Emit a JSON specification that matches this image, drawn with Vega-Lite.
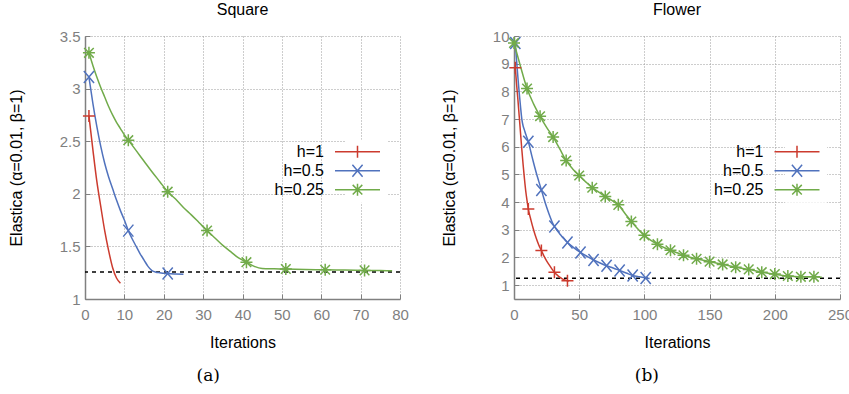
{
  "$schema": "https://vega.github.io/schema/vega-lite/v6.json",
  "background": "white",
  "padding": {"left": 8, "top": 2, "right": 0, "bottom": 0},
  "datasets": {
    "curves": [
      {"p":"S","s":"h=1","x":1,"y":2.74,"m":1},{"p":"S","s":"h=1","x":2,"y":2.42},{"p":"S","s":"h=1","x":3,"y":2.12},{"p":"S","s":"h=1","x":4,"y":1.88},{"p":"S","s":"h=1","x":5,"y":1.65},{"p":"S","s":"h=1","x":6,"y":1.46},{"p":"S","s":"h=1","x":7,"y":1.3},{"p":"S","s":"h=1","x":8,"y":1.2},{"p":"S","s":"h=1","x":9,"y":1.15},
      {"p":"S","s":"h=0.5","x":1,"y":3.11,"m":1},{"p":"S","s":"h=0.5","x":2,"y":2.86},{"p":"S","s":"h=0.5","x":3,"y":2.64},{"p":"S","s":"h=0.5","x":4,"y":2.45},{"p":"S","s":"h=0.5","x":5,"y":2.29},{"p":"S","s":"h=0.5","x":6,"y":2.16},{"p":"S","s":"h=0.5","x":7,"y":2.05},{"p":"S","s":"h=0.5","x":8,"y":1.94},{"p":"S","s":"h=0.5","x":9,"y":1.84},{"p":"S","s":"h=0.5","x":10,"y":1.75},{"p":"S","s":"h=0.5","x":11,"y":1.65,"m":1},{"p":"S","s":"h=0.5","x":12,"y":1.57},{"p":"S","s":"h=0.5","x":13,"y":1.5},{"p":"S","s":"h=0.5","x":14,"y":1.43},{"p":"S","s":"h=0.5","x":15,"y":1.37},{"p":"S","s":"h=0.5","x":16,"y":1.31},{"p":"S","s":"h=0.5","x":17,"y":1.27},{"p":"S","s":"h=0.5","x":18,"y":1.255},{"p":"S","s":"h=0.5","x":19,"y":1.25},{"p":"S","s":"h=0.5","x":20,"y":1.245},{"p":"S","s":"h=0.5","x":21,"y":1.242,"m":1},{"p":"S","s":"h=0.5","x":23,"y":1.238},{"p":"S","s":"h=0.5","x":25,"y":1.235},
      {"p":"S","s":"h=0.25","x":1,"y":3.34,"m":1},{"p":"S","s":"h=0.25","x":2,"y":3.22},{"p":"S","s":"h=0.25","x":3,"y":3.11},{"p":"S","s":"h=0.25","x":4,"y":3.01},{"p":"S","s":"h=0.25","x":5,"y":2.92},{"p":"S","s":"h=0.25","x":6,"y":2.83},{"p":"S","s":"h=0.25","x":7,"y":2.75},{"p":"S","s":"h=0.25","x":8,"y":2.68},{"p":"S","s":"h=0.25","x":9,"y":2.62},{"p":"S","s":"h=0.25","x":10,"y":2.56},{"p":"S","s":"h=0.25","x":11,"y":2.51,"m":1},{"p":"S","s":"h=0.25","x":13,"y":2.41},{"p":"S","s":"h=0.25","x":15,"y":2.31},{"p":"S","s":"h=0.25","x":17,"y":2.21},{"p":"S","s":"h=0.25","x":19,"y":2.115},{"p":"S","s":"h=0.25","x":21,"y":2.02,"m":1},{"p":"S","s":"h=0.25","x":23,"y":1.95},{"p":"S","s":"h=0.25","x":25,"y":1.87},{"p":"S","s":"h=0.25","x":27,"y":1.8},{"p":"S","s":"h=0.25","x":29,"y":1.725},{"p":"S","s":"h=0.25","x":31,"y":1.65,"m":1},{"p":"S","s":"h=0.25","x":33,"y":1.58},{"p":"S","s":"h=0.25","x":35,"y":1.51},{"p":"S","s":"h=0.25","x":37,"y":1.45},{"p":"S","s":"h=0.25","x":39,"y":1.39},{"p":"S","s":"h=0.25","x":41,"y":1.35,"m":1},{"p":"S","s":"h=0.25","x":43,"y":1.31},{"p":"S","s":"h=0.25","x":45,"y":1.29},{"p":"S","s":"h=0.25","x":48,"y":1.287},{"p":"S","s":"h=0.25","x":51,"y":1.285,"m":1},{"p":"S","s":"h=0.25","x":56,"y":1.28},{"p":"S","s":"h=0.25","x":61,"y":1.278,"m":1},{"p":"S","s":"h=0.25","x":66,"y":1.275},{"p":"S","s":"h=0.25","x":71,"y":1.272,"m":1},{"p":"S","s":"h=0.25","x":75,"y":1.27},{"p":"S","s":"h=0.25","x":78,"y":1.268},
      {"p":"F","s":"h=1","x":1,"y":8.85,"m":1},{"p":"F","s":"h=1","x":2,"y":8.25},{"p":"F","s":"h=1","x":3,"y":7.7},{"p":"F","s":"h=1","x":4,"y":7.1},{"p":"F","s":"h=1","x":5,"y":6.5},{"p":"F","s":"h=1","x":6,"y":5.9},{"p":"F","s":"h=1","x":7,"y":5.35},{"p":"F","s":"h=1","x":8,"y":4.85},{"p":"F","s":"h=1","x":9,"y":4.4},{"p":"F","s":"h=1","x":10,"y":4.05},{"p":"F","s":"h=1","x":11,"y":3.75,"m":1},{"p":"F","s":"h=1","x":13,"y":3.35},{"p":"F","s":"h=1","x":15,"y":3.0},{"p":"F","s":"h=1","x":17,"y":2.7},{"p":"F","s":"h=1","x":19,"y":2.45},{"p":"F","s":"h=1","x":21,"y":2.25,"m":1},{"p":"F","s":"h=1","x":23,"y":2.05},{"p":"F","s":"h=1","x":25,"y":1.88},{"p":"F","s":"h=1","x":27,"y":1.73},{"p":"F","s":"h=1","x":29,"y":1.59},{"p":"F","s":"h=1","x":31,"y":1.47,"m":1},{"p":"F","s":"h=1","x":33,"y":1.37},{"p":"F","s":"h=1","x":35,"y":1.29},{"p":"F","s":"h=1","x":37,"y":1.23},{"p":"F","s":"h=1","x":39,"y":1.19},{"p":"F","s":"h=1","x":41,"y":1.16,"m":1},{"p":"F","s":"h=1","x":42,"y":1.15},
      {"p":"F","s":"h=0.5","x":1,"y":9.75,"m":1},{"p":"F","s":"h=0.5","x":2,"y":9.1},{"p":"F","s":"h=0.5","x":3,"y":8.5},{"p":"F","s":"h=0.5","x":4,"y":7.95},{"p":"F","s":"h=0.5","x":5,"y":7.45},{"p":"F","s":"h=0.5","x":6,"y":7.0},{"p":"F","s":"h=0.5","x":7,"y":6.75},{"p":"F","s":"h=0.5","x":8,"y":6.6},{"p":"F","s":"h=0.5","x":9,"y":6.45},{"p":"F","s":"h=0.5","x":10,"y":6.32},{"p":"F","s":"h=0.5","x":11,"y":6.18,"m":1},{"p":"F","s":"h=0.5","x":13,"y":5.8},{"p":"F","s":"h=0.5","x":15,"y":5.42},{"p":"F","s":"h=0.5","x":17,"y":5.07},{"p":"F","s":"h=0.5","x":19,"y":4.75},{"p":"F","s":"h=0.5","x":21,"y":4.44,"m":1},{"p":"F","s":"h=0.5","x":23,"y":4.12},{"p":"F","s":"h=0.5","x":25,"y":3.82},{"p":"F","s":"h=0.5","x":27,"y":3.55},{"p":"F","s":"h=0.5","x":29,"y":3.31},{"p":"F","s":"h=0.5","x":31,"y":3.12,"m":1},{"p":"F","s":"h=0.5","x":33,"y":2.98},{"p":"F","s":"h=0.5","x":35,"y":2.86},{"p":"F","s":"h=0.5","x":37,"y":2.74},{"p":"F","s":"h=0.5","x":39,"y":2.64},{"p":"F","s":"h=0.5","x":41,"y":2.54,"m":1},{"p":"F","s":"h=0.5","x":46,"y":2.35},{"p":"F","s":"h=0.5","x":51,"y":2.18,"m":1},{"p":"F","s":"h=0.5","x":56,"y":2.04},{"p":"F","s":"h=0.5","x":61,"y":1.91,"m":1},{"p":"F","s":"h=0.5","x":66,"y":1.8},{"p":"F","s":"h=0.5","x":71,"y":1.7,"m":1},{"p":"F","s":"h=0.5","x":76,"y":1.62},{"p":"F","s":"h=0.5","x":81,"y":1.53,"m":1},{"p":"F","s":"h=0.5","x":86,"y":1.44},{"p":"F","s":"h=0.5","x":91,"y":1.35,"m":1},{"p":"F","s":"h=0.5","x":96,"y":1.3},{"p":"F","s":"h=0.5","x":101,"y":1.26,"m":1},{"p":"F","s":"h=0.5","x":104,"y":1.24},
      {"p":"F","s":"h=0.25","x":0,"y":9.75,"m":1},{"p":"F","s":"h=0.25","x":5,"y":8.9},{"p":"F","s":"h=0.25","x":10,"y":8.1,"m":1},{"p":"F","s":"h=0.25","x":15,"y":7.55},{"p":"F","s":"h=0.25","x":20,"y":7.1,"m":1},{"p":"F","s":"h=0.25","x":25,"y":6.7},{"p":"F","s":"h=0.25","x":30,"y":6.35,"m":1},{"p":"F","s":"h=0.25","x":35,"y":5.93},{"p":"F","s":"h=0.25","x":40,"y":5.5,"m":1},{"p":"F","s":"h=0.25","x":45,"y":5.2},{"p":"F","s":"h=0.25","x":50,"y":4.96,"m":1},{"p":"F","s":"h=0.25","x":55,"y":4.73},{"p":"F","s":"h=0.25","x":60,"y":4.52,"m":1},{"p":"F","s":"h=0.25","x":65,"y":4.36},{"p":"F","s":"h=0.25","x":70,"y":4.2,"m":1},{"p":"F","s":"h=0.25","x":75,"y":4.06},{"p":"F","s":"h=0.25","x":80,"y":3.9,"m":1},{"p":"F","s":"h=0.25","x":85,"y":3.6},{"p":"F","s":"h=0.25","x":90,"y":3.3,"m":1},{"p":"F","s":"h=0.25","x":95,"y":3.03},{"p":"F","s":"h=0.25","x":100,"y":2.8,"m":1},{"p":"F","s":"h=0.25","x":105,"y":2.62},{"p":"F","s":"h=0.25","x":110,"y":2.48,"m":1},{"p":"F","s":"h=0.25","x":115,"y":2.36},{"p":"F","s":"h=0.25","x":120,"y":2.26,"m":1},{"p":"F","s":"h=0.25","x":125,"y":2.17},{"p":"F","s":"h=0.25","x":130,"y":2.08,"m":1},{"p":"F","s":"h=0.25","x":135,"y":2.01},{"p":"F","s":"h=0.25","x":140,"y":1.95,"m":1},{"p":"F","s":"h=0.25","x":145,"y":1.9},{"p":"F","s":"h=0.25","x":150,"y":1.85,"m":1},{"p":"F","s":"h=0.25","x":155,"y":1.8},{"p":"F","s":"h=0.25","x":160,"y":1.75,"m":1},{"p":"F","s":"h=0.25","x":165,"y":1.7},{"p":"F","s":"h=0.25","x":170,"y":1.65,"m":1},{"p":"F","s":"h=0.25","x":175,"y":1.61},{"p":"F","s":"h=0.25","x":180,"y":1.57,"m":1},{"p":"F","s":"h=0.25","x":185,"y":1.52},{"p":"F","s":"h=0.25","x":190,"y":1.47,"m":1},{"p":"F","s":"h=0.25","x":195,"y":1.43},{"p":"F","s":"h=0.25","x":200,"y":1.4,"m":1},{"p":"F","s":"h=0.25","x":205,"y":1.36},{"p":"F","s":"h=0.25","x":210,"y":1.33,"m":1},{"p":"F","s":"h=0.25","x":215,"y":1.31},{"p":"F","s":"h=0.25","x":220,"y":1.3,"m":1},{"p":"F","s":"h=0.25","x":225,"y":1.3},{"p":"F","s":"h=0.25","x":230,"y":1.3,"m":1},{"p":"F","s":"h=0.25","x":236,"y":1.29}
    ],
    "ref": [{"p":"S","y":1.257},{"p":"F","y":1.25}]
  },
  "config": {
    "font": "Liberation Sans",
    "view": {"stroke": null},
    "axis": {
      "grid": true, "gridColor": "#9a9a9a", "gridDash": [1, 2], "gridWidth": 1,
      "domainColor": "#808080", "domainWidth": 1.5,
      "ticks": true, "tickColor": "#808080", "tickSize": -5, "tickWidth": 1,
      "labelFont": "Liberation Sans", "labelFontSize": 15, "labelColor": "#7f7f7f",
      "titleFont": "Liberation Sans", "titleFontSize": 16, "titleFontWeight": "normal", "titleColor": "black",
      "labelFlush": false, "labelOverlap": false
    },
    "axisX": {"labelPadding": 13, "titlePadding": 12},
    "axisY": {"labelPadding": 10},
    "title": {"font": "Liberation Sans", "fontSize": 16, "fontWeight": "normal", "color": "black", "offset": 11},
    "legend": {
      "orient": "none", "title": null, "labelFont": "Liberation Sans", "labelFontSize": 16, "labelColor": "black",
      "labelAlign": "right", "labelOffset": -41.5, "symbolSize": 144, "symbolStrokeWidth": 1.5, "rowPadding": 1,
      "symbolOpacity": 1, "fillColor": "white", "padding": 4
    }
  },
  "spacing": 32,
  "hconcat": [
    {
      "title": {"text": "(a)", "orient": "bottom", "anchor": "middle", "font": "DejaVu Serif", "fontSize": 17, "offset": 18},
      "vconcat": [
        {
          "width": 315, "height": 263,
          "title": {"text": "Square"},
          "resolve": {"scale": {"color": "independent", "shape": "independent"}, "legend": {"color": "independent", "shape": "independent"}},
          "layer": [
            {
              "data": {"name": "ref"},
              "transform": [{"filter": "datum.p === 'S'"}],
              "mark": {"type": "rule", "color": "black", "strokeDash": [4, 4], "strokeWidth": 1.5},
              "encoding": {"y": {"field": "y", "type": "quantitative", "scale": {"domain": [1, 3.5], "nice": false, "zero": false},
                  "axis": {"values": [1, 1.5, 2, 2.5, 3, 3.5], "format": "~g", "title": "Elastica (α=0.01, β=1)", "titlePadding": 35, "labelOverlap": false}}}
            },
            {
              "data": {"name": "curves"},
              "transform": [{"filter": "datum.p === 'S'"}],
              "mark": {"type": "line", "strokeWidth": 1.5, "interpolate": "monotone"},
              "encoding": {
                "x": {"field": "x", "type": "quantitative", "scale": {"domain": [0, 80], "nice": false, "zero": false},
                  "axis": {"values": [0, 10, 20, 30, 40, 50, 60, 70, 80], "title": "Iterations", "labelOverlap": false}},
                "y": {"field": "y", "type": "quantitative", "scale": {"domain": [1, 3.5], "nice": false, "zero": false},
                  "axis": {"values": [1, 1.5, 2, 2.5, 3, 3.5], "format": "~g", "title": "Elastica (α=0.01, β=1)", "titlePadding": 35, "labelOverlap": false}},
                "color": {"field": "s", "type": "nominal", "legend": null, "scale": {"domain": ["h=1", "h=0.5", "h=0.25"], "range": ["#cc3b2e", "#5072bd", "#71ab4a"]}}
              }
            },
            {
              "data": {"name": "curves"},
              "transform": [{"filter": "datum.p === 'S' && datum.m === 1"}],
              "mark": {"type": "point", "filled": false, "strokeWidth": 1.5, "size": 144, "opacity": 1},
              "encoding": {
                "x": {"field": "x", "type": "quantitative",
                  "axis": {"values": [0, 10, 20, 30, 40, 50, 60, 70, 80], "title": "Iterations", "labelOverlap": false}},
                "y": {"field": "y", "type": "quantitative",
                  "axis": {"values": [1, 1.5, 2, 2.5, 3, 3.5], "format": "~g", "title": "Elastica (α=0.01, β=1)", "titlePadding": 35, "labelOverlap": false}},
                "color": {"field": "s", "type": "nominal", "legend": null, "scale": {"domain": ["h=1", "h=0.5", "h=0.25"], "range": ["#cc3b2e", "#5072bd", "#71ab4a"]}},
                "shape": {"field": "s", "type": "nominal", "legend": null,
                  "scale": {"domain": ["h=1", "h=0.5", "h=0.25"], "range": ["M-1,0H1M0,-1V1", "M-0.85,-1L0.85,1M-0.85,1L0.85,-1", "M-1,0H1M0,-1V1M-0.8,-0.8L0.8,0.8M-0.8,0.8L0.8,-0.8"]}}
              }
            },
            {
              "data": {"name": "curves"},
              "transform": [{"filter": "datum.p === 'S' && datum.m === 1"}],
              "mark": {"type": "point", "filled": false, "strokeWidth": 1.5, "size": 144, "opacity": 0},
              "encoding": {
                "x": {"field": "x", "type": "quantitative",
                  "axis": {"values": [0, 10, 20, 30, 40, 50, 60, 70, 80], "title": "Iterations", "labelOverlap": false}},
                "y": {"field": "y", "type": "quantitative",
                  "axis": {"values": [1, 1.5, 2, 2.5, 3, 3.5], "format": "~g", "title": "Elastica (α=0.01, β=1)", "titlePadding": 35, "labelOverlap": false}},
                "color": {"field": "s", "type": "nominal", "scale": {"domain": ["h=1", "h=0.5", "h=0.25"], "range": ["#cc3b2e", "#5072bd", "#71ab4a"]},
                  "legend": {"legendX": 260.5, "legendY": 103.7, "symbolOpacity": 1}},
                "shape": {"field": "s", "type": "nominal",
                  "legend": {"legendX": 260.5, "legendY": 103.7, "symbolOpacity": 1},
                  "scale": {"domain": ["h=1", "h=0.5", "h=0.25"], "range": ["M-3.75,0H3.75M0,-1V1", "M-3.75,0H3.75M-0.85,-1L0.85,1M-0.85,1L0.85,-1", "M-3.75,0H3.75M0,-1V1M-0.8,-0.8L0.8,0.8M-0.8,0.8L0.8,-0.8"]}}
              }
            }
          ]
        }
      ]
    },
    {
      "title": {"text": "(b)", "orient": "bottom", "anchor": "middle", "font": "DejaVu Serif", "fontSize": 17, "offset": 18},
      "vconcat": [
        {
          "width": 326, "height": 263,
          "title": {"text": "Flower"},
          "resolve": {"scale": {"color": "independent", "shape": "independent"}, "legend": {"color": "independent", "shape": "independent"}},
          "layer": [
            {
              "data": {"name": "ref"},
              "transform": [{"filter": "datum.p === 'F'"}],
              "mark": {"type": "rule", "color": "black", "strokeDash": [4, 4], "strokeWidth": 1.5},
              "encoding": {"y": {"field": "y", "type": "quantitative", "scale": {"domain": [0.5, 10], "nice": false, "zero": false},
                  "axis": {"values": [1, 2, 3, 4, 5, 6, 7, 8, 9, 10], "title": "Elastica (α=0.01, β=1)", "titlePadding": 35, "labelOverlap": false}}}
            },
            {
              "data": {"name": "curves"},
              "transform": [{"filter": "datum.p === 'F'"}],
              "mark": {"type": "line", "strokeWidth": 1.5, "interpolate": "monotone"},
              "encoding": {
                "x": {"field": "x", "type": "quantitative", "scale": {"domain": [0, 250], "nice": false, "zero": false},
                  "axis": {"values": [0, 50, 100, 150, 200, 250], "title": "Iterations", "labelOverlap": false}},
                "y": {"field": "y", "type": "quantitative", "scale": {"domain": [0.5, 10], "nice": false, "zero": false},
                  "axis": {"values": [1, 2, 3, 4, 5, 6, 7, 8, 9, 10], "title": "Elastica (α=0.01, β=1)", "titlePadding": 35, "labelOverlap": false}},
                "color": {"field": "s", "type": "nominal", "legend": null, "scale": {"domain": ["h=1", "h=0.5", "h=0.25"], "range": ["#cc3b2e", "#5072bd", "#71ab4a"]}}
              }
            },
            {
              "data": {"name": "curves"},
              "transform": [{"filter": "datum.p === 'F' && datum.m === 1"}],
              "mark": {"type": "point", "filled": false, "strokeWidth": 1.5, "size": 144, "opacity": 1},
              "encoding": {
                "x": {"field": "x", "type": "quantitative",
                  "axis": {"values": [0, 50, 100, 150, 200, 250], "title": "Iterations", "labelOverlap": false}},
                "y": {"field": "y", "type": "quantitative",
                  "axis": {"values": [1, 2, 3, 4, 5, 6, 7, 8, 9, 10], "title": "Elastica (α=0.01, β=1)", "titlePadding": 35, "labelOverlap": false}},
                "color": {"field": "s", "type": "nominal", "legend": null, "scale": {"domain": ["h=1", "h=0.5", "h=0.25"], "range": ["#cc3b2e", "#5072bd", "#71ab4a"]}},
                "shape": {"field": "s", "type": "nominal", "legend": null,
                  "scale": {"domain": ["h=1", "h=0.5", "h=0.25"], "range": ["M-1,0H1M0,-1V1", "M-0.85,-1L0.85,1M-0.85,1L0.85,-1", "M-1,0H1M0,-1V1M-0.8,-0.8L0.8,0.8M-0.8,0.8L0.8,-0.8"]}}
              }
            },
            {
              "data": {"name": "curves"},
              "transform": [{"filter": "datum.p === 'F' && datum.m === 1"}],
              "mark": {"type": "point", "filled": false, "strokeWidth": 1.5, "size": 144, "opacity": 0},
              "encoding": {
                "x": {"field": "x", "type": "quantitative",
                  "axis": {"values": [0, 50, 100, 150, 200, 250], "title": "Iterations", "labelOverlap": false}},
                "y": {"field": "y", "type": "quantitative",
                  "axis": {"values": [1, 2, 3, 4, 5, 6, 7, 8, 9, 10], "title": "Elastica (α=0.01, β=1)", "titlePadding": 35, "labelOverlap": false}},
                "color": {"field": "s", "type": "nominal", "scale": {"domain": ["h=1", "h=0.5", "h=0.25"], "range": ["#cc3b2e", "#5072bd", "#71ab4a"]},
                  "legend": {"legendX": 271, "legendY": 103.7, "symbolOpacity": 1}},
                "shape": {"field": "s", "type": "nominal",
                  "legend": {"legendX": 271, "legendY": 103.7, "symbolOpacity": 1},
                  "scale": {"domain": ["h=1", "h=0.5", "h=0.25"], "range": ["M-3.75,0H3.75M0,-1V1", "M-3.75,0H3.75M-0.85,-1L0.85,1M-0.85,1L0.85,-1", "M-3.75,0H3.75M0,-1V1M-0.8,-0.8L0.8,0.8M-0.8,0.8L0.8,-0.8"]}}
              }
            }
          ]
        }
      ]
    }
  ],
  "resolve": {"scale": {"x": "independent", "y": "independent", "color": "independent", "shape": "independent"}}
}
